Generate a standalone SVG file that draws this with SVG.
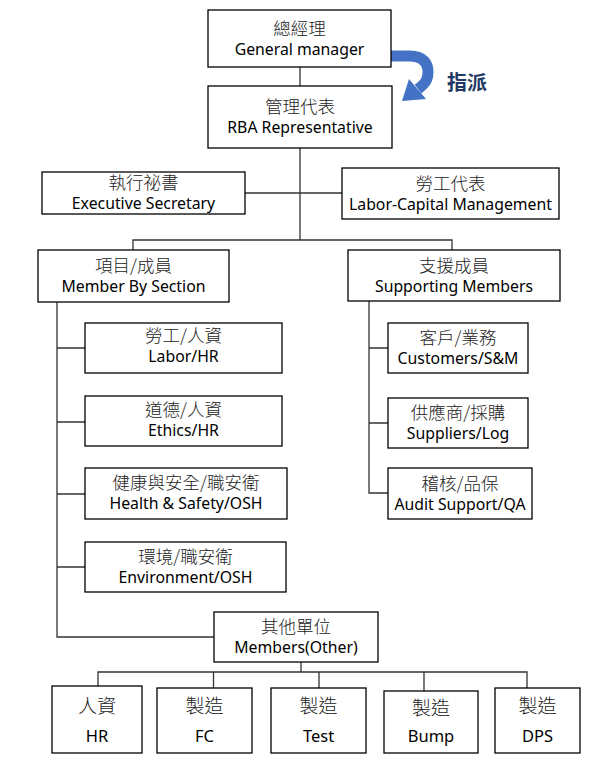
<svg xmlns="http://www.w3.org/2000/svg" width="598" height="766" viewBox="0 0 598 766">
<style>
.box{fill:#fff;stroke:#000;stroke-width:1.3}
.zh{font-family:"Noto Sans CJK TC","Noto Sans CJK SC",sans-serif;font-size:17.5px;font-weight:300;fill:#222;text-anchor:middle}
.en{font-family:"Noto Sans","Open Sans",sans-serif;font-size:15.8px;fill:#000;text-anchor:middle}
.zhb{font-size:19px}
.enb{font-size:16.5px}
.ln{fill:none;stroke:#333;stroke-width:1.3}
</style>
<rect width="598" height="766" fill="#fff"/>
<g id="connectors" class="ln">
<path d="M300,67V86"/>
<path d="M300,148V240"/>
<path d="M245,193H342"/>
<path d="M133,250V240H452V250"/>
<path d="M57,302V637H214"/>
<path d="M57,348H85M57,422H85M57,494H85M57,567H85"/>
<path d="M369,301V493H389M369,348H389M369,423H389"/>
<path d="M301,662V672"/>
<path d="M98,686V672H527V688M213.5,672V688M319,672V688M424,672V691"/>
</g>
<g id="assign">
<path d="M391,56H410C424,56 428,64 428,72C428,79 426,83 418,89" fill="none" stroke="#4472C4" stroke-width="11"/>
<polygon points="402,101 409,79 426,99" fill="#4472C4"/>
<text x="467" y="90" style="font-family:'Noto Sans CJK TC',sans-serif;font-size:20px;font-weight:bold;fill:#1F3864;text-anchor:middle">指派</text>
</g>
<g id="gm"><rect class="box" x="208" y="10" width="183" height="57"/><text class="zh" x="299.5" y="35">總經理</text><text class="en" x="299.5" y="55">General manager</text></g>
<g id="rba"><rect class="box" x="208" y="86" width="184" height="62"/><text class="zh" x="300" y="113">管理代表</text><text class="en" x="300" y="133">RBA Representative</text></g>
<g id="exec"><rect class="box" x="42" y="172" width="203" height="42"/><text class="zh" x="143.5" y="189">執行祕書</text><text class="en" x="143.5" y="209">Executive Secretary</text></g>
<g id="laborcap"><rect class="box" x="342" y="168" width="217" height="51"/><text class="zh" x="450.5" y="190">勞工代表</text><text class="en" x="450.5" y="210">Labor-Capital Management</text></g>
<g id="member"><rect class="box" x="38" y="250" width="191" height="52"/><text class="zh" x="133.5" y="272">項目/成員</text><text class="en" x="133.5" y="292">Member By Section</text></g>
<g id="support"><rect class="box" x="348" y="250" width="212" height="51"/><text class="zh" x="454" y="272">支援成員</text><text class="en" x="454" y="292">Supporting Members</text></g>
<g id="laborhr"><rect class="box" x="85" y="323" width="197" height="50"/><text class="zh" x="183.5" y="342">勞工/人資</text><text class="en" x="183.5" y="362">Labor/HR</text></g>
<g id="ethics"><rect class="box" x="85" y="396" width="197" height="50"/><text class="zh" x="183.5" y="416">道德/人資</text><text class="en" x="183.5" y="436">Ethics/HR</text></g>
<g id="health"><rect class="box" x="85" y="468" width="202" height="51"/><text class="zh" x="186" y="489">健康與安全/職安衛</text><text class="en" x="186" y="509">Health &amp; Safety/OSH</text></g>
<g id="env"><rect class="box" x="85" y="542" width="201" height="50"/><text class="zh" x="185.5" y="563">環境/職安衛</text><text class="en" x="185.5" y="583">Environment/OSH</text></g>
<g id="customers"><rect class="box" x="388" y="323" width="140" height="50"/><text class="zh" x="458" y="344">客戶/業務</text><text class="en" x="458" y="364">Customers/S&amp;M</text></g>
<g id="suppliers"><rect class="box" x="388" y="398" width="140" height="50"/><text class="zh" x="458" y="419">供應商/採購</text><text class="en" x="458" y="439">Suppliers/Log</text></g>
<g id="audit"><rect class="box" x="388" y="468" width="144" height="51"/><text class="zh" x="460" y="490">稽核/品保</text><text class="en" x="460" y="510">Audit Support/QA</text></g>
<g id="other"><rect class="box" x="214" y="612" width="164" height="50"/><text class="zh" x="296" y="633">其他單位</text><text class="en" x="296" y="653">Members(Other)</text></g>
<g id="hr"><rect class="box" x="52" y="686" width="90" height="67"/><text class="zh zhb" x="97" y="713">人資</text><text class="en enb" x="97" y="742">HR</text></g>
<g id="fc"><rect class="box" x="157" y="688" width="95" height="65"/><text class="zh zhb" x="204.5" y="713">製造</text><text class="en enb" x="204.5" y="742">FC</text></g>
<g id="test"><rect class="box" x="271" y="688" width="95" height="65"/><text class="zh zhb" x="318.5" y="713">製造</text><text class="en enb" x="318.5" y="742">Test</text></g>
<g id="bump"><rect class="box" x="384" y="691" width="94" height="62"/><text class="zh zhb" x="431" y="715">製造</text><text class="en enb" x="431" y="742">Bump</text></g>
<g id="dps"><rect class="box" x="495" y="688" width="85" height="65"/><text class="zh zhb" x="537.5" y="713">製造</text><text class="en enb" x="537.5" y="742">DPS</text></g>
</svg>
